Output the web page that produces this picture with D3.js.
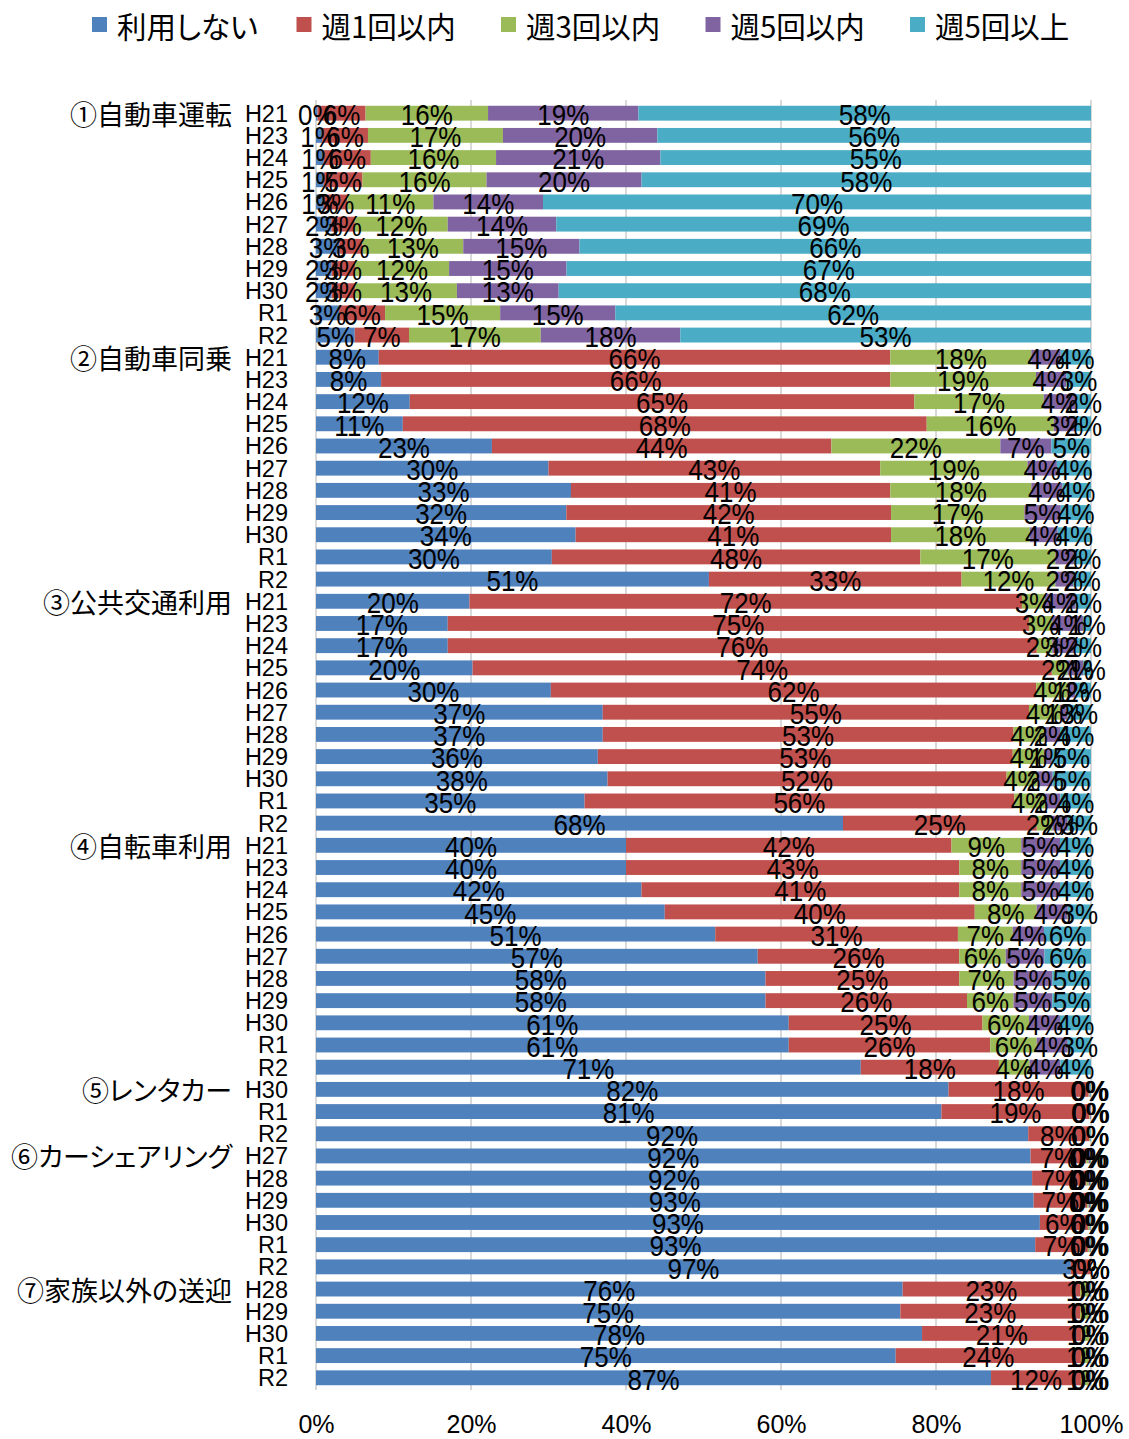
<!DOCTYPE html>
<html>
<head>
<meta charset="utf-8">
<script src="https://cdn.jsdelivr.net/npm/d3@7"></script>
<style>
  body { margin: 0; background: #fff; }
  svg { display: block; }
  .num { font-family: "Liberation Sans", Arial, sans-serif; }
  .jp { font-family: "Noto Sans CJK JP", sans-serif; font-feature-settings: "palt"; }
</style>
</head>
<body>
<svg id="chart" width="1129" height="1439"></svg>
<script>
// Usage frequency categories and their colours
const seriesNames = ["利用しない", "週1回以内", "週3回以内", "週5回以内", "週5回以上"];
const seriesColors = ["#4F81BD", "#C0504D", "#9BBB59", "#8064A2", "#4BACC6"];

// Travel modes and the survey years shown for each
const groupNames = ["①自動車運転", "②自動車同乗", "③公共交通利用", "④自転車利用", "⑤レンタカー", "⑥カーシェアリング", "⑦家族以外の送迎"];
const groupYears = [
  ["H21", "H23", "H24", "H25", "H26", "H27", "H28", "H29", "H30", "R1", "R2"],
  ["H21", "H23", "H24", "H25", "H26", "H27", "H28", "H29", "H30", "R1", "R2"],
  ["H21", "H23", "H24", "H25", "H26", "H27", "H28", "H29", "H30", "R1", "R2"],
  ["H21", "H23", "H24", "H25", "H26", "H27", "H28", "H29", "H30", "R1", "R2"],
  ["H30", "R1", "R2"],
  ["H27", "H28", "H29", "H30", "R1", "R2"],
  ["H28", "H29", "H30", "R1", "R2"]
];

// Shares (%) per row, rows in the order of groupYears
const notUsed = [
  0.2, 0.8, 1, 1, 1, 2, 3, 2, 2, 3, 5,
  8.1, 8.4, 12.1, 11.2, 22.7, 30.0, 32.9, 32.3, 33.5, 30.4, 50.7,
  20, 17, 17, 20, 30, 37, 37, 36, 38, 35, 68,
  40, 40, 42, 45, 51, 57, 58, 58, 61, 61, 71,
  81.7, 80.7, 91.9,
  92.2, 92.4, 92.6, 93.4, 92.8, 97.4,
  75.7, 75.4, 78.2, 74.8, 87.1
];
const weekly1 = [
  6.2, 5.9, 6, 5, 3, 3, 3, 3, 3, 6, 7,
  66.0, 65.7, 65.1, 67.6, 43.8, 42.8, 41.2, 41.9, 40.7, 47.5, 32.6,
  72, 75, 76, 74, 62, 55, 53, 53, 52, 56, 25,
  42, 43, 41, 40, 31, 26, 25, 26, 25, 26, 18,
  18.1, 19.1, 7.9,
  7.2, 7.0, 6.9, 6.2, 6.8, 2.6,
  22.9, 23.2, 20.6, 23.9, 11.6
];
const weekly3 = [
  15.8, 17.4, 16, 16, 11, 12, 13, 12, 13, 15, 17,
  18.2, 18.8, 16.7, 16.4, 21.8, 19.0, 18.2, 17.2, 17.9, 17.4, 12.1,
  3, 3, 2, 2, 4, 4, 4, 4, 4, 4, 2,
  9, 8, 8, 8, 7, 6, 7, 6, 6, 6, 4,
  0.1, 0.1, 0.1,
  0.3, 0.3, 0.2, 0.2, 0.2, 0,
  1.1, 1.1, 1.0, 1.0, 1.0
];
const weekly5 = [
  19.4, 19.9, 21, 20, 14, 14, 15, 15, 13, 15, 18,
  3.8, 3.9, 4.1, 2.8, 6.6, 3.8, 4.0, 4.7, 3.6, 2.4, 2.3,
  4, 4, 3, 2, 1, 1, 2, 1, 2, 2, 2,
  5, 5, 5, 4, 4, 5, 5, 5, 4, 4, 4,
  0.1, 0.1, 0,
  0.2, 0.2, 0.2, 0.1, 0.1, 0,
  0.2, 0.2, 0.1, 0.2, 0.2
];
const weekly5plus = [
  58.4, 55.9, 55, 58, 70, 69, 66, 67, 68, 62, 53,
  3.9, 3.2, 2.0, 2.0, 5.1, 4.4, 3.7, 3.9, 4.3, 2.2, 2.3,
  2, 1, 2, 1, 2, 3, 4, 5, 5, 4, 3,
  4, 4, 4, 3, 6, 6, 5, 5, 4, 3, 4,
  0.1, 0, 0.1,
  0.1, 0.1, 0.1, 0.1, 0.1, 0,
  0.1, 0.1, 0.1, 0.1, 0.1
];
const xTicks = [0, 0.2, 0.4, 0.6, 0.8, 1];

const seriesValues = [notUsed, weekly1, weekly3, weekly5, weekly5plus];

// One row per (mode, year)
const rows = [];
let k = 0;
groupYears.forEach((years, g) => {
  years.forEach((yr, i) => {
    rows.push({ id: g + "-" + yr, group: g, first: i === 0, year: yr,
                v: seriesValues.map(s => s[k]) });
    k++;
  });
});

const svg = d3.select("#chart");

const x = d3.scaleLinear().domain([0, 1]).range([316, 1091]);
const y = d3.scaleBand().domain(rows.map(r => r.id)).range([102, 1389])
  .paddingInner(0.33).paddingOuter(0.17);

// 100% stacked layout
const stacked = d3.stack()
  .keys(d3.range(seriesNames.length))
  .value((d, key) => d.v[key])
  .offset(d3.stackOffsetExpand)(rows);

// Vertical gridlines
svg.append("g").selectAll("line").data(xTicks).join("line")
  .attr("x1", d => x(d)).attr("x2", d => x(d))
  .attr("y1", 100).attr("y2", 1390)
  .attr("stroke", "#D9D9D9").attr("stroke-width", 2);

// Bars
const layers = svg.append("g").selectAll("g").data(stacked).join("g")
  .attr("fill", (d, i) => seriesColors[i]);
layers.selectAll("rect").data(d => d).join("rect")
  .attr("x", d => x(d[0]))
  .attr("width", d => Math.max(0, x(d[1]) - x(d[0])))
  .attr("y", d => y(d.data.id))
  .attr("height", y.bandwidth());

// Value labels centred in each segment (slightly tall, condensed look)
const fmt = v => d3.format(".0f")(v) + "%";
svg.append("g").selectAll("g").data(stacked).join("g")
  .selectAll("text").data(s => s.map(d => ({ d, key: s.key }))).join("text")
  .attr("class", "num")
  .attr("transform", e => {
    const cx = (x(e.d[0]) + x(e.d[1])) / 2;
    const cy = y(e.d.data.id) + y.bandwidth() / 2 + 1;
    return `translate(${cx},${cy}) scale(1,1.17)`;
  })
  .attr("text-anchor", "middle")
  .attr("dominant-baseline", "central")
  .attr("font-size", 26)
  .attr("fill", "#000")
  .text(e => fmt(e.d.data.v[e.key]));

// Year labels (category axis)
const yAxis = svg.append("g").attr("transform", "translate(316,0)")
  .call(d3.axisLeft(y).tickSize(0).tickPadding(28)
    .tickFormat(id => rows.find(r => r.id === id).year));
yAxis.select(".domain").remove();
yAxis.selectAll("text").attr("class", "num").attr("font-size", 23.5)
  .attr("fill", "#000").attr("dy", "0.36em");

// Mode names on the first row of each group
svg.append("g").selectAll("text").data(rows.filter(r => r.first)).join("text")
  .attr("class", "jp")
  .attr("x", 232)
  .attr("y", r => y(r.id) + y.bandwidth() / 2)
  .attr("text-anchor", "end")
  .attr("dominant-baseline", "central")
  .attr("font-size", 27)
  .attr("fill", "#000")
  .text(r => groupNames[r.group]);

// Percentage axis
const xAxis = svg.append("g").attr("transform", "translate(0,1389)")
  .call(d3.axisBottom(x).tickValues(xTicks).tickFormat(d3.format(".0%"))
    .tickSize(0).tickPadding(26));
xAxis.select(".domain").remove();
xAxis.selectAll("text").attr("class", "num").attr("font-size", 25).attr("fill", "#000");

// Legend
const legend = svg.append("g").selectAll("g").data(seriesNames).join("g")
  .attr("transform", (d, i) => `translate(${92 + i * 204.5},17)`);
legend.append("rect").attr("width", 15).attr("height", 15)
  .attr("fill", (d, i) => seriesColors[i]);
legend.append("text").attr("class", "jp")
  .attr("x", 25).attr("y", 8)
  .attr("dominant-baseline", "central")
  .attr("font-size", 29.5)
  .attr("fill", "#000")
  .text(d => d);
</script>
</body>
</html>
